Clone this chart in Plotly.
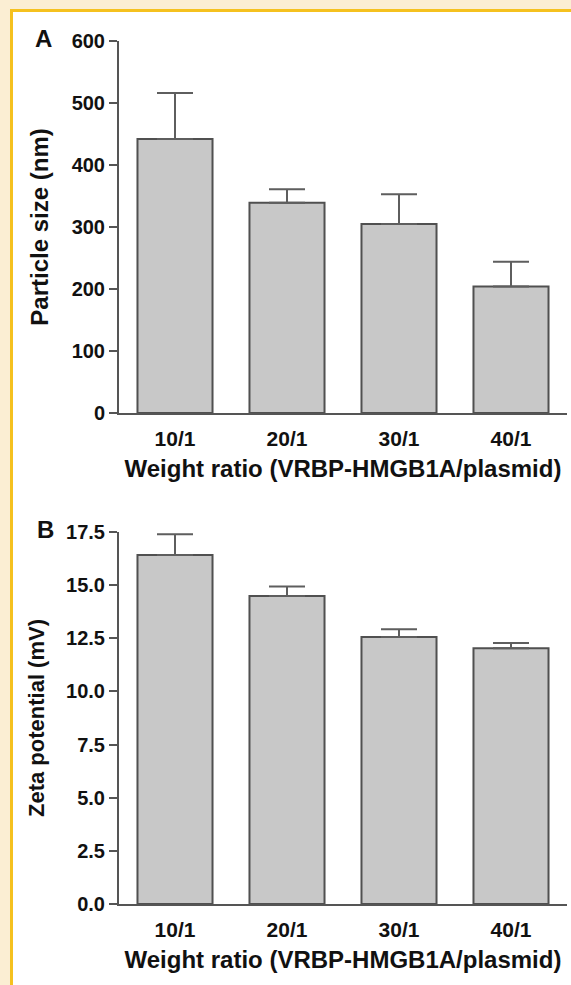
import plotly.graph_objects as go

# ---- data ----
categories = ["10/1", "20/1", "30/1", "40/1"]
size_mean = [442, 339, 305, 204]          # Particle size (nm)
size_err = [74, 22, 48, 40]
zeta_mean = [16.42, 14.49, 12.56, 12.03]  # Zeta potential (mV)
zeta_err = [0.97, 0.45, 0.36, 0.25]
size_ticks = [0, 100, 200, 300, 400, 500, 600]
zeta_ticks = [0.0, 2.5, 5.0, 7.5, 10.0, 12.5, 15.0, 17.5]
zeta_ticktext = [f"{v:.1f}" for v in zeta_ticks]
x_title = "Weight ratio (VRBP-HMGB1A/plasmid)"

# ---- layout geometry (pixels) ----
W, H = 571, 985
L, R, T, B = 119, 4, 41, 81
PW = W - L - R
PH = H - T - B


def px_x(p):
    return (p - L) / PW


def px_y(p):
    return (H - B - p) / PH


FONT = "Liberation Sans, Arial, Helvetica, sans-serif"
BAR_FILL = "#c8c8c8"
BAR_LINE = "#505050"
AX = "#555555"
TXT = "#111111"


def f(size):
    return dict(family=FONT, size=size, color=TXT, weight="bold")


fig = go.Figure()

fig.add_trace(go.Bar(
    x=categories, y=size_mean, xaxis="x", yaxis="y",
    marker=dict(color=BAR_FILL, line=dict(color=BAR_LINE, width=2)),
    error_y=dict(type="data", symmetric=False, array=size_err,
                 arrayminus=[0] * len(size_err), color="#5e5e5e",
                 thickness=2, width=18),
    showlegend=False, hoverinfo="x+y",
))
fig.add_trace(go.Bar(
    x=categories, y=zeta_mean, xaxis="x2", yaxis="y2",
    marker=dict(color=BAR_FILL, line=dict(color=BAR_LINE, width=2)),
    error_y=dict(type="data", symmetric=False, array=zeta_err,
                 arrayminus=[0] * len(zeta_err), color="#5e5e5e",
                 thickness=2, width=18),
    showlegend=False, hoverinfo="x+y",
))

ydomA = [px_y(413), 1.0]
ydomB = [0.0, px_y(532)]

common_x = dict(
    showline=True, linecolor=AX, linewidth=2, ticks="", showgrid=False,
    zeroline=False, range=[-0.5, 3.5], type="category", automargin=False,
    tickfont=f(21),
    title=dict(text=x_title, font=f(24), standoff=11),
    ticklabelstandoff=6,
)
common_y = dict(
    showline=True, linecolor=AX, linewidth=2, ticks="outside", ticklen=8,
    tickwidth=2, tickcolor=AX, showgrid=False, zeroline=False,
    automargin=False, tickfont=f(20),
)

fig.update_layout(
    width=W, height=H,
    margin=dict(l=L, r=R, t=T, b=B, pad=0, autoexpand=False),
    paper_bgcolor="#fbeed3",
    plot_bgcolor="rgba(0,0,0,0)",
    bargap=0.33,
    font=dict(family=FONT, color=TXT),
    xaxis=dict(domain=[0, 1], anchor="y", **common_x),
    xaxis2=dict(domain=[0, 1], anchor="y2", **common_x),
    yaxis=dict(domain=ydomA, anchor="x", range=[0, 600], tickvals=size_ticks,
               title=dict(text="Particle size (nm)", font=f(24), standoff=16),
               **common_y),
    yaxis2=dict(domain=ydomB, anchor="x2", range=[0, 17.5],
                tickvals=zeta_ticks, ticktext=zeta_ticktext,
                title=dict(text="Zeta potential (mV)", font=f(22), standoff=15),
                **common_y),
    shapes=[
        dict(type="rect", xref="paper", yref="paper", layer="below",
             x0=px_x(10), x1=px_x(W + 5), y0=px_y(H + 5), y1=px_y(9),
             fillcolor="#f5c11f", line=dict(width=0)),
        dict(type="rect", xref="paper", yref="paper", layer="below",
             x0=px_x(13), x1=px_x(W + 5), y0=px_y(H + 5), y1=px_y(12),
             fillcolor="#ffffff", line=dict(width=0)),
    ],
    annotations=[
        dict(text="A", xref="paper", yref="paper", x=px_x(43), y=px_y(38),
             xanchor="center", yanchor="middle", showarrow=False, font=f(24)),
        dict(text="B", xref="paper", yref="paper", x=px_x(45), y=px_y(529),
             xanchor="center", yanchor="middle", showarrow=False, font=f(24)),
    ],
)

fig.write_html(
    "out.html", include_plotlyjs=True,
    config={"displayModeBar": False},
    post_script="document.body.style.margin='0';document.body.style.overflow='hidden';",
)
